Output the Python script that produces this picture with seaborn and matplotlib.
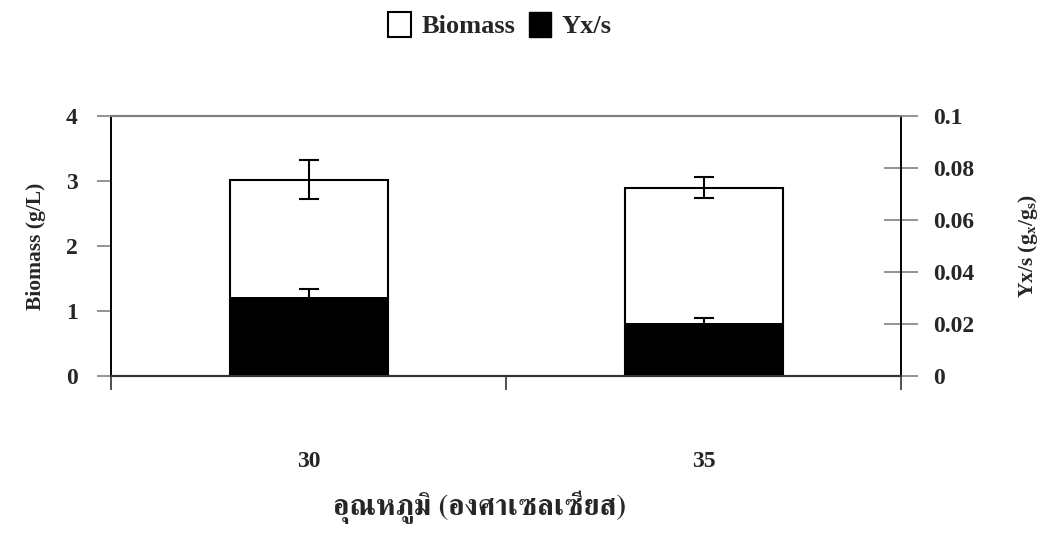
import matplotlib
matplotlib.use("Agg")
import matplotlib.pyplot as plt
from matplotlib import font_manager as fm
from matplotlib.ft2font import FT2Font
from matplotlib.patches import Patch
import seaborn as sns
import pandas as pd

# ---- data ----
categories = ["30", "35"]
biomass = [3.02, 2.90]
biomass_err = [0.30, 0.16]
yxs = [0.0304, 0.0204]
yxs_err = [0.0030, 0.0020]
left_ticks = [0, 1, 2, 3, 4]
right_ticks = [0, 0.02, 0.04, 0.06, 0.08, 0.1]
right_ticklabels = ["0", "0.02", "0.04", "0.06", "0.08", "0.1"]

sns.set_theme(style="white")

# find a font that can draw Thai
thai_family = None
for f in fm.fontManager.ttflist:
    try:
        cm = FT2Font(f.fname).get_charmap()
        if 0x0E2D in cm and 0x0E38 in cm:
            thai_family = f.name
            if "Serif" in f.name:
                break
    except Exception:
        pass

serif = "Liberation Serif"
plt.rcParams["font.family"] = [serif, "DejaVu Sans"]
plt.rcParams["font.weight"] = "bold"
plt.rcParams["mathtext.fontset"] = "custom"
plt.rcParams["mathtext.rm"] = "Liberation Serif:bold"
plt.rcParams["mathtext.bf"] = "Liberation Serif:bold"
plt.rcParams["mathtext.it"] = "Liberation Serif:bold"

TFS = 17
LFS = 15.5
fig = plt.figure(figsize=(10.53, 5.33), dpi=100)
ax = fig.add_axes([111/1053, 1-376/533, (901-111)/1053, (376-116)/533])

df1 = pd.DataFrame({"cat": categories, "val": biomass})
df2 = pd.DataFrame({"cat": categories, "val": yxs})

sns.barplot(data=df1, x="cat", y="val", ax=ax, color="white", edgecolor="black",
            linewidth=1.5, width=0.4, errorbar=None, saturation=1)
ax.errorbar(range(len(categories)), biomass, yerr=biomass_err, fmt="none",
            ecolor="black", elinewidth=1.5, capsize=7, capthick=1.5, zorder=5)

ax2 = ax.twinx()
sns.barplot(data=df2, x="cat", y="val", ax=ax2, color="black", edgecolor="black",
            linewidth=0, width=0.4, errorbar=None, saturation=1)
ax2.errorbar(range(len(categories)), yxs, yerr=yxs_err, fmt="none",
             ecolor="black", elinewidth=1.5, capsize=7, capthick=1.5, zorder=5)

ax.set_xlim(-0.5, 1.5)
ax.set_ylim(0, 4)
ax2.set_ylim(0, 0.1)
ax.set_yticks(left_ticks)
ax.set_yticklabels([str(t) for t in left_ticks], fontsize=TFS, fontweight="bold")
ax2.set_yticks(right_ticks)
ax2.set_yticklabels(right_ticklabels, fontsize=TFS, fontweight="bold")

# x ticks at category boundaries, labels at centers
ax.set_xticks([-0.5, 0.5, 1.5])
ax.set_xticklabels([])
ax.set_xticks([0, 1], minor=True)
ax.set_xticklabels(categories, minor=True, fontsize=TFS, fontweight="bold")
ax.tick_params(axis="x", which="major", direction="out", length=10, width=1.2,
               color="#333333", bottom=True)
ax.tick_params(axis="x", which="minor", length=0, pad=54, bottom=True)

ax.tick_params(axis="y", direction="out", length=10, width=1.2, color="#808080",
               pad=14, left=True)
ax2.tick_params(axis="y", direction="inout", length=24, width=1.2, color="#808080",
                pad=11, right=True)

for a in (ax, ax2):
    a.spines["top"].set_color("#808080")
    a.spines["top"].set_linewidth(1.5)
    a.spines["bottom"].set_color("#333333")
    a.spines["bottom"].set_linewidth(1.5)
    a.spines["left"].set_color("black")
    a.spines["right"].set_color("black")
    a.spines["left"].set_linewidth(1.2)
    a.spines["right"].set_linewidth(1.2)
    a.grid(False)

ax.set_ylabel("Biomass (g/L)", fontsize=LFS, fontweight="bold", labelpad=14)
ax2.set_ylabel(r"Yx/s (g$_{\mathrm{x}}$/g$_{\mathrm{s}}$)", fontsize=LFS,
               fontweight="bold", labelpad=30)

xl_family = [thai_family, serif] if thai_family else [serif, "DejaVu Sans"]
ax.set_xlabel("อุณหภูมิ (องศาเซลเซียส)", fontsize=21, fontweight="bold",
              family=xl_family, labelpad=12)
ax.xaxis.set_label_coords((480-111)/790, -0.44)

handles = [Patch(facecolor="white", edgecolor="black", linewidth=1.5, label="Biomass"),
           Patch(facecolor="black", edgecolor="black", label="Yx/s")]
fig.legend(handles=handles, loc="center", bbox_to_anchor=(500/1053, 1-25/533),
           ncol=2, frameon=False, handlelength=0.85, handleheight=1.1,
           handletextpad=0.4, columnspacing=0.5, prop={"weight": "bold", "size": 19})

fig.savefig("out.png", dpi=100)
